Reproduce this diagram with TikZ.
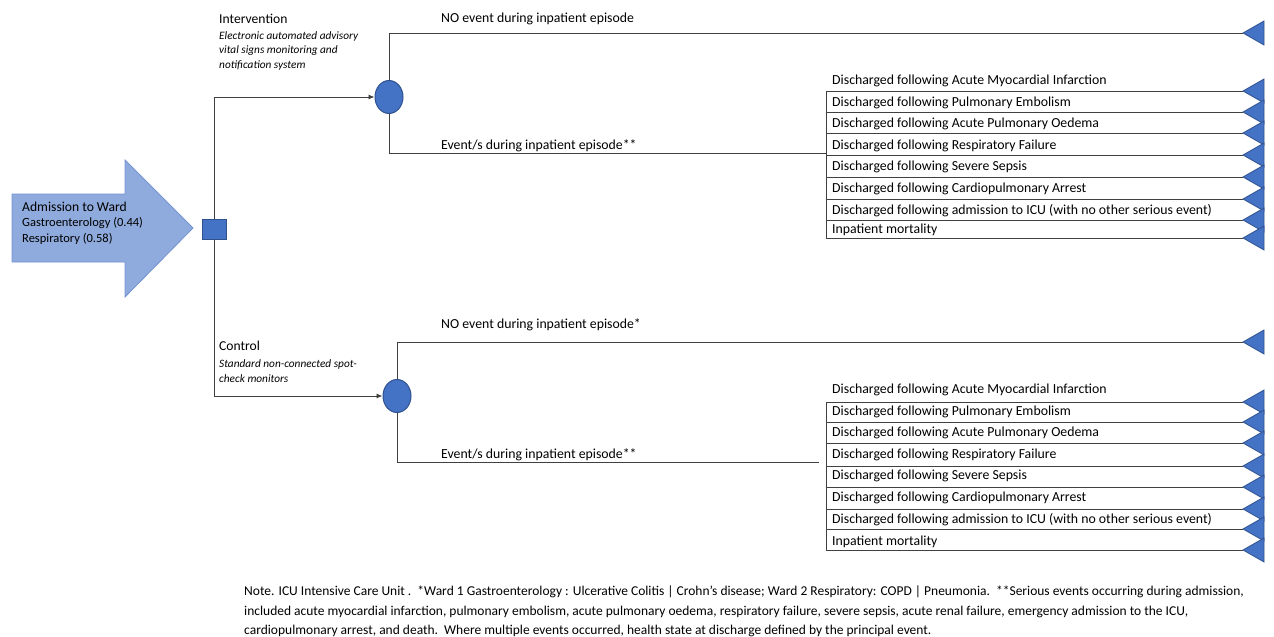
\documentclass[tikz,border=0pt]{standalone}
\usepackage{fontspec}
\setmainfont{Carlito}
\usetikzlibrary{shapes.geometric,arrows.meta}
\definecolor{nodeblue}{HTML}{4472C4}
\definecolor{nodeedge}{HTML}{2F528F}
\definecolor{arrowfill}{HTML}{8FAADC}
\definecolor{arrowedge}{HTML}{7392D2}
\definecolor{linegray}{HTML}{404040}
\begin{document}
\begin{tikzpicture}[x=1pt,y=-1pt,
  line/.style={draw=linegray, line width=0.9pt},
  arr/.style={line, -{Latex[length=6pt,width=5pt]}},
  chance/.style={ellipse, draw=nodeedge, fill=nodeblue, line width=1pt, minimum width=28pt, minimum height=33pt, inner sep=0pt},
  decision/.style={rectangle, draw=nodeedge, fill=nodeblue, line width=1pt, minimum width=24pt, minimum height=20pt, inner sep=0pt},
  terminal/.style={isosceles triangle, isosceles triangle stretches, shape border rotate=180, draw=nodeedge, fill=nodeblue, line width=0.8pt, minimum width=24pt, minimum height=21pt, inner sep=0pt, outer sep=0pt, anchor=apex},
  lbl/.style={anchor=west, inner sep=0pt, font=\fontsize{13.8}{16}\selectfont},
  head/.style={anchor=west, inner sep=0pt, font=\fontsize{13.6}{16}\selectfont},
  desc/.style={anchor=west, inner sep=0pt, font=\fontsize{11.3}{13}\selectfont\itshape},
  sub/.style={anchor=west, inner sep=0pt, font=\fontsize{12.5}{14}\selectfont},
  note/.style={anchor=west, inner sep=0pt, font=\fontsize{13.5}{15}\selectfont}
]
\useasboundingbox (0,0) rectangle (1274,637);

% entry arrow
\filldraw[fill=arrowfill, draw=arrowedge, line width=0.8pt]
  (12,194) -- (125,194) -- (125,160) -- (193,228) -- (125,297) -- (125,262) -- (12,262) -- cycle;
\node[head] (adm) at (22,207) {Admission to Ward};
\node[sub] (gas) at (22,223) {Gastroenterology (0.44)};
\node[sub] (res) at (22,239) {Respiratory (0.58)};

% decision and chance nodes
\node[decision] (dec) at (214,229) {};
\node[chance] (c1) at (389,97) {};
\node[chance] (c2) at (397,396) {};

\draw[arr] (dec.north) |- (c1.west);
\draw[arr] (dec.south) |- (c2.west);

\node[head] (int) at (219,19) {Intervention};
\node[desc] (intd1) at (219,36) {Electronic automated advisory};
\node[desc] (intd2) at (219,51) {vital signs monitoring and};
\node[desc] (intd3) at (219,66) {notification system};

\node[head] (ctl) at (219,346) {Control};
\node[desc] (ctld1) at (219,364) {Standard non-connected spot-};
\node[desc] (ctld2) at (219,379) {check monitors};

% ---------- intervention group ----------
\node[terminal] (t10) at (1243,33) {};
\draw[line] (c1.north) |- (t10.apex);
\node[lbl] (n10) at (441,19) {NO event during inpatient episode};
\coordinate (e1) at (826,153);
\draw[line] (c1.south) |- (e1);
\node[lbl] (ev1) at (441,146) {Event/s during inpatient episode**};
\coordinate (v1a) at (826,91);
\coordinate (v1b) at (826,238);
\draw[line] (v1a) -- (v1b);
\foreach \ly/\ty/\txt [count=\i] in {
  91/81/Discharged following Acute Myocardial Infarction,
  112/103/Discharged following Pulmonary Embolism,
  133/124/Discharged following Acute Pulmonary Oedema,
  155/146/Discharged following Respiratory Failure,
  177/167/Discharged following Severe Sepsis,
  199/189/Discharged following Cardiopulmonary Arrest,
  220/211/Discharged following admission to ICU (with no other serious event),
  238/230/Inpatient mortality}{
  \coordinate (s1\i) at (826,\ly);
  \node[terminal] (t1\i) at (1243,\ly) {};
  \draw[line] (s1\i) -- (t1\i.apex);
  \node[lbl] (l1\i) at (832,\ty) {\txt};
}

% ---------- control group ----------
\node[terminal] (t20) at (1243,342) {};
\draw[line] (c2.north) |- (t20.apex);
\node[lbl] (n20) at (441,325) {NO event during inpatient episode*};
\coordinate (e2) at (819,462);
\draw[line] (c2.south) |- (e2);
\node[lbl] (ev2) at (441,455) {Event/s during inpatient episode**};
\coordinate (v2a) at (826,402);
\coordinate (v2b) at (826,550);
\draw[line] (v2a) -- (v2b);
\foreach \ly/\ty/\txt [count=\i] in {
  402/390/Discharged following Acute Myocardial Infarction,
  422/412/Discharged following Pulmonary Embolism,
  443/433/Discharged following Acute Pulmonary Oedema,
  466/455/Discharged following Respiratory Failure,
  487/476/Discharged following Severe Sepsis,
  509/498/Discharged following Cardiopulmonary Arrest,
  529/520/Discharged following admission to ICU (with no other serious event),
  550/542/Inpatient mortality}{
  \coordinate (s2\i) at (826,\ly);
  \node[terminal] (t2\i) at (1243,\ly) {};
  \draw[line] (s2\i) -- (t2\i.apex);
  \node[lbl] (l2\i) at (832,\ty) {\txt};
}

% ---------- note ----------
\node[note] (note1) at (244,592) {Note. ICU Intensive Care Unit .\ \ *Ward 1 Gastroenterology : Ulcerative Colitis | Crohn's disease; Ward 2 Respiratory: COPD | Pneumonia.\ \ **Serious events occurring during admission,};
\node[note] (note2) at (244,612) {included acute myocardial infarction, pulmonary embolism, acute pulmonary oedema, respiratory failure, severe sepsis, acute renal failure, emergency admission to the ICU,};
\node[note] (note3) at (244,631) {cardiopulmonary arrest, and death.\ \ Where multiple events occurred, health state at discharge defined by the principal event.};
\end{tikzpicture}
\end{document}
